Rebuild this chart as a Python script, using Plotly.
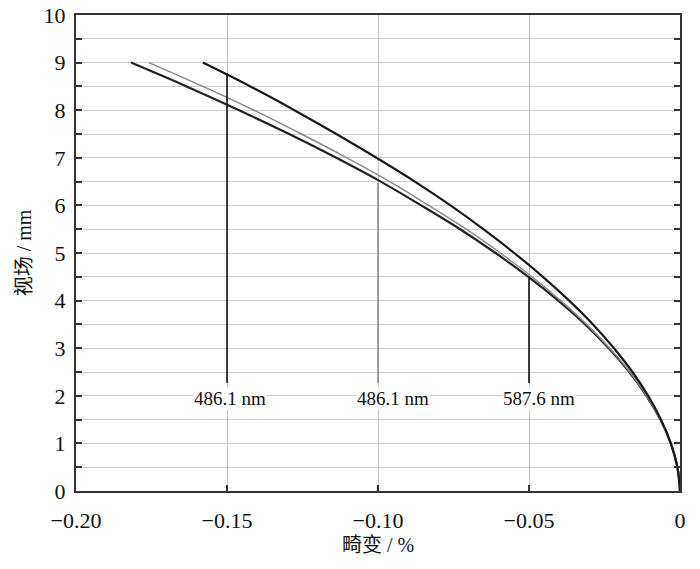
import plotly.graph_objects as go

# field heights (mm)
field = [0, 0.5, 1, 1.5, 2, 2.5, 3, 3.5, 4, 4.5, 5, 5.5, 6, 6.5, 7, 7.5, 8, 8.5, 9]

# distortion (%), three wavelengths
dist_a = [0, -0.00087, -0.00303, -0.00628, -0.01054, -0.01574, -0.02186, -0.0288, -0.0367,
          -0.0454, -0.0549, -0.0651, -0.0760, -0.0878, -0.1005, -0.1138, -0.1277, -0.1423, -0.158]
dist_b = [0, -0.00086, -0.00308, -0.0065, -0.0110, -0.0166, -0.0233, -0.0309, -0.0395,
          -0.0490, -0.0595, -0.0708, -0.0832, -0.0961, -0.1103, -0.1254, -0.1411, -0.158, -0.1759]
dist_c = [0, -0.00084, -0.00306, -0.0065, -0.0111, -0.0168, -0.0236, -0.0314, -0.0403,
          -0.0502, -0.0611, -0.0728, -0.0857, -0.0991, -0.1138, -0.1294, -0.146, -0.1634, -0.1818]

# leader lines: x position, top end, label
lead_x = [-0.15, -0.10, -0.05]
lead_top = [8.78, 6.47, 4.5]
lead_bottom = 2.27
lead_text = ["486.1 nm", "486.1 nm", "587.6 nm"]
lead_label_x = [-0.149, -0.095, -0.0467]
lead_label_y = 1.95
lead_color = ["#111111", "#888888", "#111111"]

x_ticks = [-0.20, -0.15, -0.10, -0.05, 0]
x_ticktext = ["\u22120.20", "\u22120.15", "\u22120.10", "\u22120.05", "0"]

serif = "Liberation Serif, Times New Roman, Noto Sans CJK SC"

fig = go.Figure()

fig.add_trace(go.Scatter(x=dist_c, y=field, mode="lines", line=dict(color="#222222", width=2.2, shape="spline")))
fig.add_trace(go.Scatter(x=dist_b, y=field, mode="lines", line=dict(color="#8a8a8a", width=1.5, shape="spline")))
fig.add_trace(go.Scatter(x=dist_a, y=field, mode="lines", line=dict(color="#1a1a1a", width=2.2, shape="spline")))

for lx, lt, lc in zip(lead_x, lead_top, lead_color):
    fig.add_trace(go.Scatter(x=[lx, lx], y=[lead_bottom, lt], mode="lines",
                             line=dict(color=lc, width=1.6)))

annotations = []
for lx, txt in zip(lead_label_x, lead_text):
    annotations.append(dict(x=lx, y=lead_label_y, text=txt, showarrow=False,
                            font=dict(family=serif, size=19, color="#111111"),
                            bgcolor="white", borderpad=0))

fig.update_layout(
    width=700, height=569,
    margin=dict(l=76, r=20, t=15, b=78),
    paper_bgcolor="white", plot_bgcolor="white",
    showlegend=False,
    annotations=annotations,
    font=dict(family=serif, size=22, color="#111111"),
)

fig.update_xaxes(
    range=[-0.2, 0], tickvals=x_ticks, ticktext=x_ticktext,
    showgrid=True, gridcolor="#c4c4c4", gridwidth=1,
    zeroline=False, showline=True, linecolor="#333333", linewidth=2, mirror=True,
    ticks="inside", ticklen=6, tickwidth=1.5, tickcolor="#333333",
    ticklabelstandoff=9, automargin=False,
    title=dict(text="畸变 / %", font=dict(family=serif, size=20), standoff=6),
)
fig.update_yaxes(
    range=[0, 10], dtick=1,
    showgrid=True, gridcolor="#d0d0d0", gridwidth=1,
    minor=dict(dtick=0.5, showgrid=True, gridcolor="#d0d0d0", ticks="inside",
               ticklen=6, tickcolor="#333333"),
    zeroline=False, showline=True, linecolor="#333333", linewidth=2, mirror="ticks",
    ticks="inside", ticklen=6, tickwidth=1.5, tickcolor="#333333",
    ticklabelstandoff=4, automargin=False,
    title=dict(text="视场 / mm", font=dict(family=serif, size=20), standoff=7),
)

# drop the browser's default 8px body margin so the figure sits at the page corner
fig.write_html("out.html", config={"displayModeBar": False},
               post_script="document.body.style.margin = '0';")
